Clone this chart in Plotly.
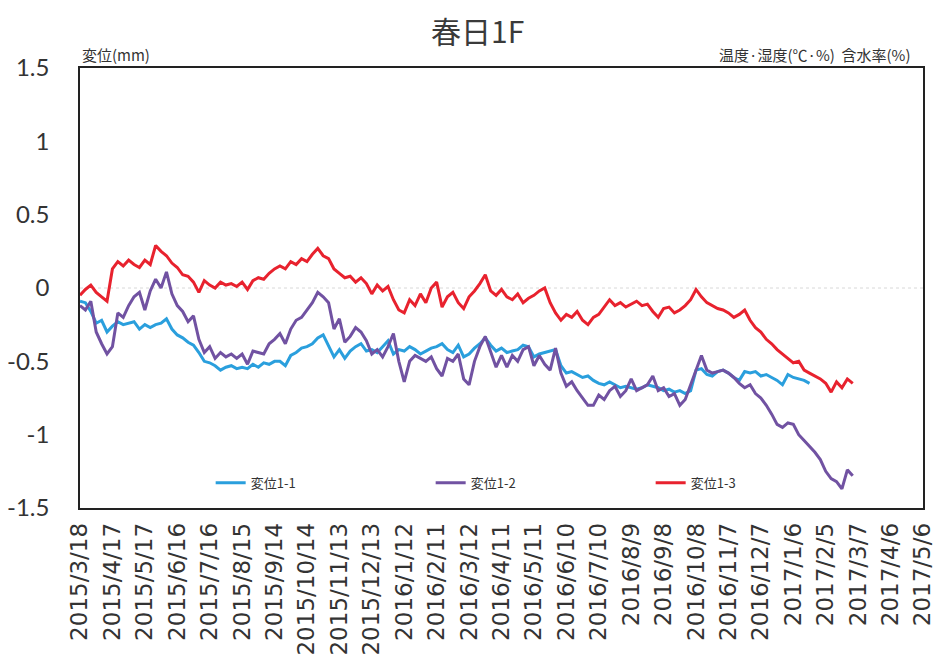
import pandas as pd
import plotly.graph_objects as go

# Sampling: one reading every 5 days from the start date
START = "2015-03-18"
STEP_DAYS = 5

# 変位1-1 (mm), logging stops in late Jan 2017
disp_1_1 = [
    -0.09, -0.10, -0.16, -0.24, -0.22, -0.30, -0.26, -0.23, -0.25, -0.24,
    -0.23, -0.28, -0.25, -0.27, -0.25, -0.24, -0.21, -0.28, -0.32, -0.34,
    -0.37, -0.39, -0.44, -0.50, -0.51, -0.53, -0.56, -0.54, -0.53, -0.55,
    -0.54, -0.55, -0.52, -0.54, -0.51, -0.52, -0.50, -0.50, -0.53, -0.46,
    -0.44, -0.41, -0.40, -0.38, -0.34, -0.32, -0.40, -0.47, -0.42, -0.48,
    -0.43, -0.40, -0.38, -0.43, -0.42, -0.44, -0.40, -0.36, -0.45, -0.42,
    -0.43, -0.40, -0.42, -0.45, -0.43, -0.41, -0.40, -0.38, -0.42, -0.44,
    -0.39, -0.47, -0.45, -0.41, -0.38, -0.34, -0.39, -0.43, -0.41, -0.44,
    -0.43, -0.42, -0.39, -0.40, -0.47, -0.45, -0.44, -0.43, -0.42, -0.53,
    -0.58, -0.57, -0.59, -0.61, -0.60, -0.63, -0.65, -0.66, -0.64, -0.66,
    -0.68, -0.67, -0.68, -0.69, -0.68, -0.66, -0.67, -0.68, -0.70, -0.69,
    -0.71, -0.70, -0.72, -0.70, -0.56, -0.55, -0.59, -0.60, -0.57, -0.56,
    -0.58, -0.61, -0.63, -0.57, -0.58, -0.57, -0.60, -0.59, -0.61, -0.63,
    -0.66, -0.59, -0.61, -0.62, -0.63, -0.65,
]

# 変位1-2 (mm)
disp_1_2 = [
    -0.12, -0.15, -0.09, -0.30, -0.38, -0.45, -0.40, -0.17, -0.20, -0.12,
    -0.06, -0.03, -0.15, -0.02, 0.06, 0.00, 0.11, -0.04, -0.12, -0.16,
    -0.23, -0.19, -0.35, -0.44, -0.40, -0.48, -0.44, -0.47, -0.45, -0.48,
    -0.45, -0.52, -0.43, -0.44, -0.45, -0.38, -0.35, -0.31, -0.38, -0.28,
    -0.22, -0.20, -0.15, -0.10, -0.03, -0.06, -0.10, -0.28, -0.21, -0.37,
    -0.33, -0.27, -0.30, -0.36, -0.45, -0.42, -0.47, -0.40, -0.31, -0.50,
    -0.64, -0.50, -0.46, -0.48, -0.50, -0.47, -0.55, -0.60, -0.48, -0.50,
    -0.45, -0.62, -0.66, -0.50, -0.40, -0.33, -0.44, -0.54, -0.46, -0.54,
    -0.46, -0.50, -0.42, -0.40, -0.53, -0.46, -0.52, -0.56, -0.41, -0.58,
    -0.67, -0.64, -0.70, -0.75, -0.80, -0.80, -0.73, -0.76, -0.70, -0.67,
    -0.74, -0.70, -0.62, -0.70, -0.68, -0.66, -0.60, -0.70, -0.68, -0.74,
    -0.72, -0.80, -0.76, -0.66, -0.55, -0.46, -0.56, -0.58, -0.57, -0.56,
    -0.58, -0.61, -0.65, -0.68, -0.66, -0.72, -0.75, -0.80, -0.86, -0.93,
    -0.95, -0.92, -0.93, -1.00, -1.04, -1.08, -1.12, -1.17, -1.25, -1.30,
    -1.32, -1.37, -1.24, -1.28,
]

# 変位1-3 (mm)
disp_1_3 = [
    -0.05, -0.01, 0.02, -0.03, -0.06, -0.09, 0.13, 0.18, 0.15, 0.19,
    0.16, 0.14, 0.19, 0.16, 0.29, 0.25, 0.22, 0.17, 0.14, 0.09,
    0.08, 0.04, -0.03, 0.05, 0.02, 0.00, 0.04, 0.02, 0.03, 0.01,
    0.04, -0.01, 0.05, 0.07, 0.06, 0.10, 0.13, 0.15, 0.13, 0.18,
    0.16, 0.20, 0.18, 0.23, 0.27, 0.22, 0.20, 0.13, 0.10, 0.07,
    0.08, 0.04, 0.07, 0.03, -0.04, 0.02, -0.02, 0.01, -0.08, -0.15,
    -0.17, -0.08, -0.12, -0.04, -0.10, 0.00, 0.04, -0.13, -0.06, -0.03,
    -0.10, -0.14, -0.06, -0.02, 0.03, 0.09, -0.02, -0.05, -0.01, -0.06,
    -0.08, -0.04, -0.10, -0.07, -0.05, -0.02, 0.00, -0.10, -0.17, -0.22,
    -0.18, -0.20, -0.16, -0.22, -0.25, -0.20, -0.18, -0.13, -0.08, -0.12,
    -0.10, -0.13, -0.11, -0.09, -0.12, -0.11, -0.16, -0.20, -0.14, -0.13,
    -0.17, -0.15, -0.12, -0.08, -0.01, -0.06, -0.10, -0.12, -0.14, -0.15,
    -0.17, -0.20, -0.18, -0.15, -0.22, -0.27, -0.30, -0.35, -0.38, -0.42,
    -0.45, -0.48, -0.51, -0.50, -0.56, -0.58, -0.60, -0.62, -0.65, -0.71,
    -0.64, -0.68, -0.62, -0.65,
]

# Date axis ticks (every 30 days)
x_tick_dates = [
    "2015-03-18", "2015-04-17", "2015-05-17", "2015-06-16", "2015-07-16",
    "2015-08-15", "2015-09-14", "2015-10-14", "2015-11-13", "2015-12-13",
    "2016-01-12", "2016-02-11", "2016-03-12", "2016-04-11", "2016-05-11",
    "2016-06-10", "2016-07-10", "2016-08-09", "2016-09-08", "2016-10-08",
    "2016-11-07", "2016-12-07", "2017-01-06", "2017-02-05", "2017-03-07",
    "2017-04-06", "2017-05-06",
]
x_tick_labels = [
    "2015/3/18", "2015/4/17", "2015/5/17", "2015/6/16", "2015/7/16",
    "2015/8/15", "2015/9/14", "2015/10/14", "2015/11/13", "2015/12/13",
    "2016/1/12", "2016/2/11", "2016/3/12", "2016/4/11", "2016/5/11",
    "2016/6/10", "2016/7/10", "2016/8/9", "2016/9/8", "2016/10/8",
    "2016/11/7", "2016/12/7", "2017/1/6", "2017/2/5", "2017/3/7",
    "2017/4/6", "2017/5/6",
]
y_tick_vals = [1.5, 1.0, 0.5, 0.0, -0.5, -1.0, -1.5]
y_tick_labels = ["1.5", "1", "0.5", "0", "-0.5", "-1", "-1.5"]

series = [
    ("変位1-1", disp_1_1, "#2A9FDD"),
    ("変位1-2", disp_1_2, "#7152A2"),
    ("変位1-3", disp_1_3, "#E8222E"),
]

fig = go.Figure()
for name, vals, color in series:
    dates = pd.date_range(START, periods=len(vals), freq=f"{STEP_DAYS}D")
    fig.add_trace(go.Scatter(
        x=dates, y=vals, name=name, mode="lines",
        line=dict(color=color, width=3),
    ))

TEXT = "#333333"
CJK = "Noto Sans CJK JP"

fig.update_layout(
    width=938, height=657,
    margin=dict(l=80, r=15, t=68, b=149),
    paper_bgcolor="white", plot_bgcolor="white",
    showlegend=True,
    legend=dict(
        orientation="h", x=0.155, xanchor="left", y=0.057, yanchor="middle",
        entrywidth=175, entrywidthmode="pixels", itemwidth=30,
        font=dict(family=CJK, size=13, color=TEXT),
        bgcolor="rgba(0,0,0,0)", tracegroupgap=0,
    ),
    xaxis=dict(
        type="date", range=["2015-03-18", "2017-05-06"],
        tickvals=x_tick_dates, ticktext=x_tick_labels, tickangle=-90,
        tickfont=dict(family="DejaVu Sans", size=23, color=TEXT),
        showgrid=False, zeroline=False, ticks="", automargin=False,
        ticklabelstandoff=4,
        showline=True, linecolor="#222222", linewidth=1.5, mirror=True,
    ),
    yaxis=dict(
        range=[-1.5, 1.5], tickvals=y_tick_vals, ticktext=y_tick_labels,
        tickfont=dict(family="Lato", size=24, color=TEXT),
        ticklabelstandoff=24, ticks="", automargin=False,
        showgrid=False, zeroline=False,
        showline=True, linecolor="#222222", linewidth=1.5, mirror=True,
    ),
    shapes=[dict(
        type="line", xref="paper", yref="y", x0=0, x1=1, y0=0, y1=0,
        line=dict(color="#D8D8D8", width=1, dash="dot"), layer="below",
    )],
    annotations=[
        dict(text="春日1F", xref="paper", yref="paper", x=0.472, y=1.086,
             xanchor="center", yanchor="middle", showarrow=False,
             font=dict(family=CJK, size=30, color="#3A3A3A")),
        dict(text="変位(mm)", xref="paper", yref="paper", x=0.0, y=1.03,
             xanchor="left", yanchor="middle", showarrow=False,
             font=dict(family=CJK, size=15, color=TEXT)),
        dict(text="温度·湿度(℃·%)  含水率(%)", xref="paper", yref="paper",
             x=0.987, y=1.03, xanchor="right", yanchor="middle", showarrow=False,
             font=dict(family=CJK, size=15, color=TEXT)),
    ],
)

fig.write_html("out.html")
